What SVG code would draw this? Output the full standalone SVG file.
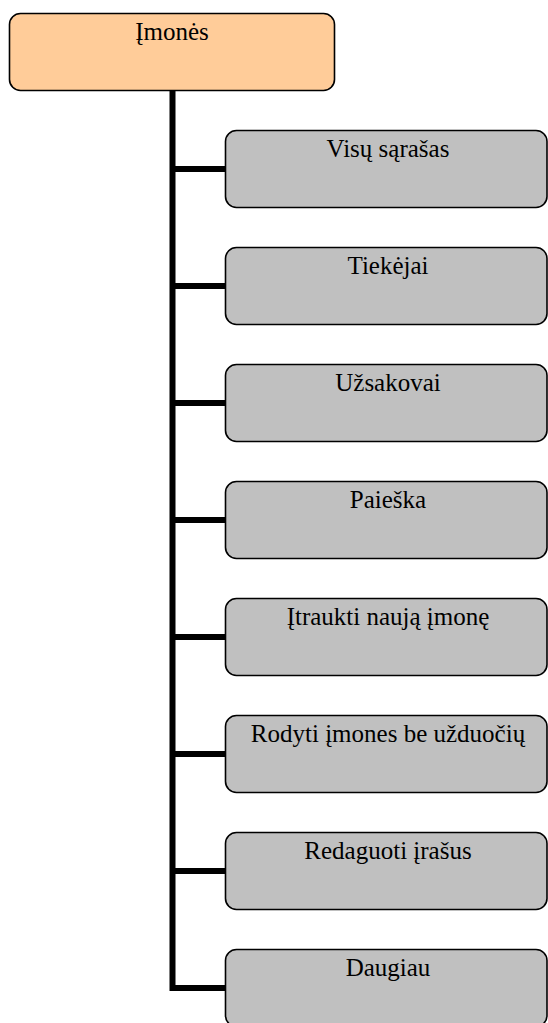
<svg xmlns="http://www.w3.org/2000/svg" width="548" height="1023" viewBox="0 0 548 1023">
  <style>
    .root { fill: #FFCC99; stroke: #000; stroke-width: 1.6; }
    .item { fill: #C0C0C0; stroke: #000; stroke-width: 1.6; }
    .label { font-family: "Liberation Serif", "Times New Roman", serif; font-size: 25px; fill: #000; text-anchor: middle; }
    .link { fill: none; stroke: #000; stroke-width: 6; stroke-linejoin: miter; stroke-linecap: butt; }
  </style>
  <rect x="0" y="0" width="548" height="1023" fill="#fff"/>

  <!-- connectors: trunk from the root down, with a branch to each item -->
  <g id="connectors">
    <path class="link" d="M172.5 91 V988 H226"/>
    <path class="link" d="M172.5 169 H226"/>
    <path class="link" d="M172.5 286 H226"/>
    <path class="link" d="M172.5 403 H226"/>
    <path class="link" d="M172.5 520 H226"/>
    <path class="link" d="M172.5 637 H226"/>
    <path class="link" d="M172.5 754 H226"/>
    <path class="link" d="M172.5 871 H226"/>
  </g>

  <g id="node-imones">
    <rect class="root" x="9.5" y="13.5" width="325" height="77" rx="11"/>
    <text class="label" x="172" y="40">Įmonės</text>
  </g>

  <g id="node-visu-sarasas">
    <rect class="item" x="225.5" y="130.5" width="321.5" height="77" rx="11"/>
    <text class="label" x="388" y="157">Visų sąrašas</text>
  </g>

  <g id="node-tiekejai">
    <rect class="item" x="225.5" y="247.5" width="321.5" height="77" rx="11"/>
    <text class="label" x="388" y="274">Tiekėjai</text>
  </g>

  <g id="node-uzsakovai">
    <rect class="item" x="225.5" y="364.5" width="321.5" height="77" rx="11"/>
    <text class="label" x="388" y="391">Užsakovai</text>
  </g>

  <g id="node-paieska">
    <rect class="item" x="225.5" y="481.5" width="321.5" height="77" rx="11"/>
    <text class="label" x="388" y="508">Paieška</text>
  </g>

  <g id="node-itraukti">
    <rect class="item" x="225.5" y="598.5" width="321.5" height="77" rx="11"/>
    <text class="label" x="388" y="625">Įtraukti naują įmonę</text>
  </g>

  <g id="node-rodyti">
    <rect class="item" x="225.5" y="715.5" width="321.5" height="77" rx="11"/>
    <text class="label" x="388" y="742">Rodyti įmones be užduočių</text>
  </g>

  <g id="node-redaguoti">
    <rect class="item" x="225.5" y="832.5" width="321.5" height="77" rx="11"/>
    <text class="label" x="388" y="859">Redaguoti įrašus</text>
  </g>

  <g id="node-daugiau">
    <rect class="item" x="225.5" y="949.5" width="321.5" height="77" rx="11"/>
    <text class="label" x="388" y="976">Daugiau</text>
  </g>
</svg>
